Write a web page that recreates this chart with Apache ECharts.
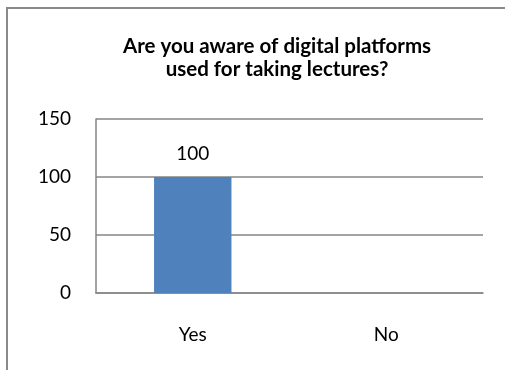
<!DOCTYPE html>
<html>
<head>
<meta charset="utf-8">
<script src="https://cdn.jsdelivr.net/npm/echarts@6/dist/echarts.min.js"></script>
<style>
  html, body { margin: 0; padding: 0; background: #fff; }
  #frame { position: absolute; left: 6px; top: 7px; width: 499px; height: 363px;
           border-left: 2px solid #8a8a8a; border-top: 2px solid #8a8a8a; }
  #chart { position: absolute; left: 0; top: 0; width: 505px; height: 370px; }
</style>
</head>
<body>
<div id="frame"></div>
<div id="chart"></div>
<script>
const titleText = 'Are you aware of digital platforms\nused for taking lectures?';
const categories = ['Yes', 'No'];
const responses = [100, null];
const yMin = 0, yMax = 150, yStep = 50;

const FONT = 'Lato, "Open Sans", sans-serif';
const chart = echarts.init(document.getElementById('chart'), null, { renderer: 'canvas' });
chart.setOption({
  animation: false,
  backgroundColor: 'transparent',
  // two-line heading, centred a little right of the frame's middle
  graphic: [{
    type: 'text',
    x: 277,
    y: 35,
    style: {
      text: titleText,
      textAlign: 'center',
      textVerticalAlign: 'top',
      fontFamily: FONT,
      fontWeight: 'bold',
      fontSize: 20.5,
      lineHeight: 23,
      fill: '#000'
    }
  }],
  grid: { left: 96, right: 22, top: 119, bottom: 77 },
  xAxis: {
    type: 'category',
    data: categories,
    axisTick: { show: false },
    axisLine: { lineStyle: { color: '#868686', width: 1.5 } },
    axisLabel: { margin: 32, fontFamily: FONT, fontSize: 19, color: '#000' }
  },
  yAxis: {
    type: 'value',
    min: yMin, max: yMax, interval: yStep,
    axisLine: { show: true, lineStyle: { color: '#868686', width: 1.5 } },
    axisTick: { show: false },
    splitLine: { lineStyle: { color: '#868686', width: 1.5 } },
    axisLabel: { margin: 25, fontFamily: FONT, fontSize: 19, color: '#000' }
  },
  series: [{
    type: 'bar',
    data: responses,
    barWidth: '40%',
    itemStyle: { color: '#4F81BD' },
    label: { show: true, position: 'top', distance: 14, fontFamily: FONT, fontSize: 19, color: '#000' }
  }]
});
</script>
</body>
</html>
